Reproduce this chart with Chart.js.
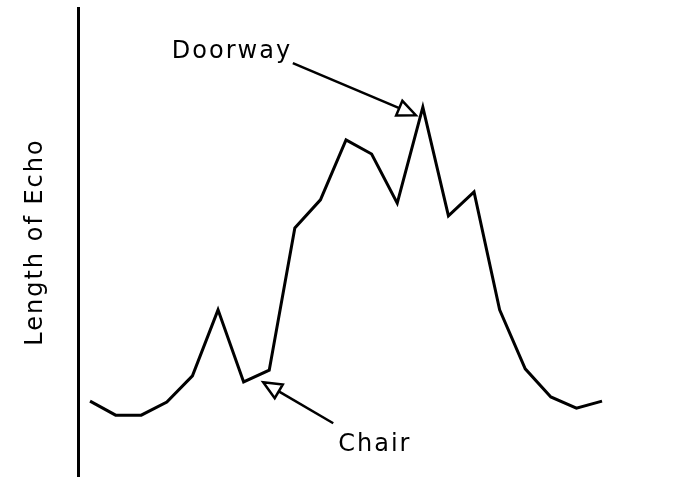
<!DOCTYPE html>
<html>
<head>
<meta charset="utf-8">
<script src="https://cdn.jsdelivr.net/npm/chart.js@4.4.1/dist/chart.umd.min.js"></script>
<style>
    html, body { margin: 0; padding: 0; background: #fff; }
    #wrap { width: 693px; height: 478px; }
</style>
</head>
<body>
<div id="wrap"><canvas id="chart-js"></canvas></div>
<script>
// sonar sweep, one reading per step
const steps = [0, 1, 2, 3, 4, 5, 6, 7, 8, 9, 10, 11, 12, 13, 14, 15, 16, 17, 18, 19, 20];
const echoLength = [16.0, 13.0, 13.0, 15.8, 21.4, 35.5, 20.1, 22.6, 53.0, 59.0, 71.8,
                    68.8, 58.3, 78.8, 55.6, 60.7, 35.5, 22.9, 16.9, 14.5, 16.0];
const noteText = ['Doorway', 'Chair'];
const noteStep = [13, 7];

const FONT = '24px "DejaVu Sans"';

// arrows + labels hung off a data point
const echoNotes = {
    id: 'echoNotes',
    beforeDraw(chart) {
        chart.ctx.letterSpacing = '2px';
    },
    afterDatasetsDraw(chart, args, opts) {
        const { ctx, scales: { x, y } } = chart;
        ctx.save();
        ctx.strokeStyle = '#000';
        ctx.fillStyle = '#000';
        ctx.lineWidth = 2.5;
        ctx.lineJoin = 'miter';
        ctx.font = FONT;
        ctx.textBaseline = 'alphabetic';
        ctx.textAlign = 'left';
        opts.items.forEach((n, i) => {
            const idx = noteStep[i];
            const px = x.getPixelForValue(steps[idx]), py = y.getPixelForValue(echoLength[idx]);
            const tipX = px + n.tip[0], tipY = py + n.tip[1];
            const tailX = tipX + n.tail[0], tailY = tipY + n.tail[1];
            const a = Math.atan2(tipY - tailY, tipX - tailX);
            const cos = Math.cos(a), sin = Math.sin(a);
            const len = 18, half = 8;
            const bx = tipX - len * cos, by = tipY - len * sin;

            ctx.beginPath();
            ctx.moveTo(tailX, tailY);
            ctx.lineTo(bx, by);
            ctx.stroke();

            ctx.beginPath();
            ctx.moveTo(tipX, tipY);
            ctx.lineTo(bx - half * sin, by + half * cos);
            ctx.lineTo(bx + half * sin, by - half * cos);
            ctx.closePath();
            ctx.stroke();

            ctx.fillText(noteText[i], tailX + n.label[0], tailY + n.label[1]);
        });
        ctx.restore();
    }
};

const data = {
    datasets: [{
        label: 'Echo',
        data: steps.map((s, i) => ({ x: s, y: echoLength[i] })),
        borderColor: '#000',
        borderWidth: 3,
        pointRadius: 0,
        tension: 0,
        fill: false
    }]
};

const config = {
    type: 'line',
    data: data,
    options: {
        responsive: true,
        maintainAspectRatio: false,
        animation: false,
        layout: { padding: { top: 8, bottom: 2, left: 0, right: 50 } },
        plugins: {
            legend: { display: false },
            tooltip: { enabled: false },
            echoNotes: {
                items: [
                    { tip: [-7, 8], tail: [-123, -52], label: [-121, -5] },
                    { tip: [-6, 12], tail: [70, 41], label: [5, 28] }
                ]
            }
        },
        scales: {
            x: {
                type: 'linear',
                display: false,
                min: -0.47,
                max: 21.6
            },
            y: {
                min: 0,
                max: 100,
                grid: { display: false, drawTicks: false, tickLength: 0 },
                ticks: { display: false },
                border: { display: true, color: '#000', width: 3 },
                title: {
                    display: true,
                    text: 'Length of Echo',
                    color: '#000',
                    font: { family: 'DejaVu Sans', size: 24, lineHeight: 1.2 },
                    padding: { top: 21, bottom: 28.2 }
                }
            }
        }
    },
    plugins: [echoNotes]
};

new Chart(document.getElementById('chart-js'), config);
</script>
</body>
</html>
